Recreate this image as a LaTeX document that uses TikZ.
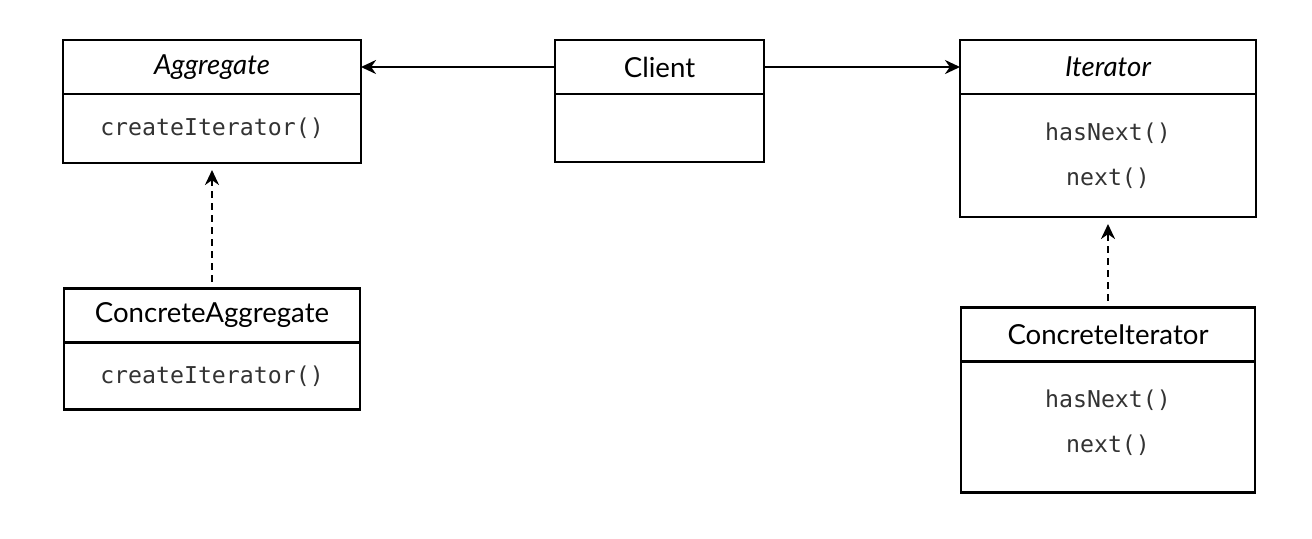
\documentclass[tikz,border=0pt]{standalone}
\usepackage{fontspec}
\setmainfont{Lato}
\newfontfamily\codefont{DejaVu Sans Mono}
\usetikzlibrary{arrows.meta,positioning}

\begin{document}
\begin{tikzpicture}[x=0.5pt,y=-0.5pt,
  head/.style={draw,line width=1.4pt,outer sep=0pt,minimum height=27pt,
    font=\fontsize{13.8}{17}\selectfont},
  body/.style={draw,line width=1.4pt,outer sep=0pt,align=center,text=black!80,
    font=\codefont\fontsize{11.6}{14}\selectfont},
  uses/.style={line width=1.2pt,-{Stealth[length=7.5pt,width=7pt]}},
  realizes/.style={line width=1.4pt,dash pattern=on 3.5pt off 2.5pt,
    -{Stealth[length=7.5pt,width=7pt]},shorten <=3.5pt,shorten >=3.5pt}]
  \useasboundingbox (0,0) rectangle (1312,538);
  % Abstract classes
  \node[head,minimum width=149pt] (aggr) at (212,67) {\itshape Aggregate};
  \node[body,minimum width=149pt,minimum height=34.5pt,below=0pt of aggr] (aggrops) {createIterator()};
  \node[head,minimum width=148pt] (iter) at (1108,67) {\itshape Iterator};
  \node[body,minimum width=148pt,minimum height=61.5pt,below=0pt of iter] (iterops) {hasNext()\\[8.5pt]next()};
  % Client
  \node[head,minimum width=104.5pt] (client) at (659.5,67) {Client};
  \node[body,minimum width=104.5pt,minimum height=34pt,below=0pt of client] (clientops) {};
  % Concrete classes
  \node[head,minimum width=148pt] (caggr) at (212,315.5) {ConcreteAggregate};
  \node[body,minimum width=148pt,minimum height=33.5pt,below=0pt of caggr] (caggrops) {createIterator()};
  \node[head,minimum width=147pt] (citer) at (1108,334.5) {ConcreteIterator};
  \node[body,minimum width=147pt,minimum height=65.5pt,below=0pt of citer] (citerops) {hasNext()\\[8.5pt]next()\rule[-6pt]{0pt}{0pt}};
  % Associations
  \draw[uses] (client) -- (aggr);
  \draw[uses] (client) -- (iter);
  \draw[realizes] (caggr.north) -- (aggrops.south);
  \draw[realizes] (citer.north) -- (iterops.south);
\end{tikzpicture}
\end{document}
